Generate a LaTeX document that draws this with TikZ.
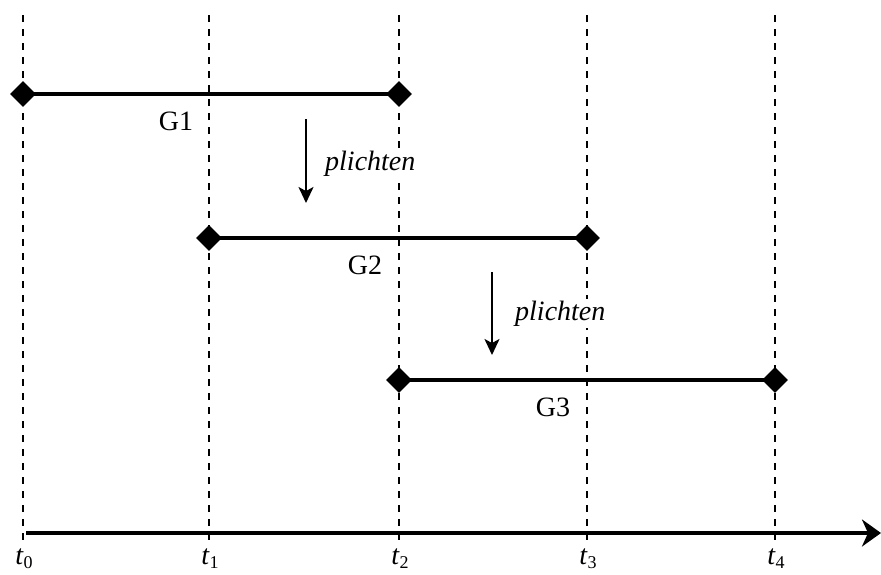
\documentclass[tikz,border=0pt]{standalone}
\usepackage{fontspec}
\setmainfont{Liberation Serif}
\usetikzlibrary{shapes.geometric,arrows.meta}
\begin{document}
\begin{tikzpicture}[x=1pt,y=-1pt,
  guide/.style={line width=1.6pt,dash pattern=on 7pt off 7pt},
  bar/.style={line width=3.8pt},
  knot/.style={diamond,fill=black,draw=none,inner sep=0pt,minimum width=26pt,minimum height=26pt},
  big/.style={font=\fontsize{28}{30}\selectfont},
  glabel/.style={big,inner sep=0pt,anchor=base},
  plabel/.style={big,inner sep=2pt,anchor=base west,fill=white},
  tlabel/.style={big,inner sep=0pt,anchor=base},
  timeaxis/.style={line width=4pt,-{Stealth[length=19pt,width=27pt,inset=6pt]}},
  movearrow/.style={line width=2pt,-{Stealth[length=16pt,width=15pt,inset=4pt]}}
]
\useasboundingbox (0,0) rectangle (881,574);
% guide lines
\foreach \i/\x in {0/23,1/209,2/399,3/587,4/775}{
  \coordinate (top\i) at (\x,15);
  \coordinate (bot\i) at (\x,540);
  \draw[guide] (top\i) -- (bot\i);
  \node[tlabel] (t\i) at (\x+1,564) {\textit{t}\raisebox{-4pt}{\fontsize{18}{18}\selectfont\i}};
}
% time axis
\coordinate (ax0) at (26,533);
\coordinate (ax1) at (881,533);
\draw[timeaxis] (ax0) -- (ax1);
% bars
\coordinate (g1a) at (23,94);
\coordinate (g1b) at (399,94);
\coordinate (g2a) at (209,238);
\coordinate (g2b) at (587,238);
\coordinate (g3a) at (399,380);
\coordinate (g3b) at (775,380);
\draw[bar] (g1a) -- (g1b);
\draw[bar] (g2a) -- (g2b);
\draw[bar] (g3a) -- (g3b);
\node[knot] (k1a) at (g1a) {};
\node[knot] (k1b) at (g1b) {};
\node[knot] (k2a) at (g2a) {};
\node[knot] (k2b) at (g2b) {};
\node[knot] (k3a) at (g3a) {};
\node[knot] (k3b) at (g3b) {};
\node[glabel] (G1) at (176,130) {G1};
\node[glabel] (G2) at (365,274) {G2};
\node[glabel] (G3) at (553,416) {G3};
% shift arrows
\coordinate (s1a) at (306,119);
\coordinate (s1b) at (306,203);
\draw[movearrow] (s1a) -- (s1b);
\node[plabel] (p1) at (323,170) {\textit{plichten}};
\coordinate (s2a) at (492,272);
\coordinate (s2b) at (492,355);
\draw[movearrow] (s2a) -- (s2b);
\node[plabel] (p2) at (513,320) {\textit{plichten}};
\end{tikzpicture}
\end{document}
